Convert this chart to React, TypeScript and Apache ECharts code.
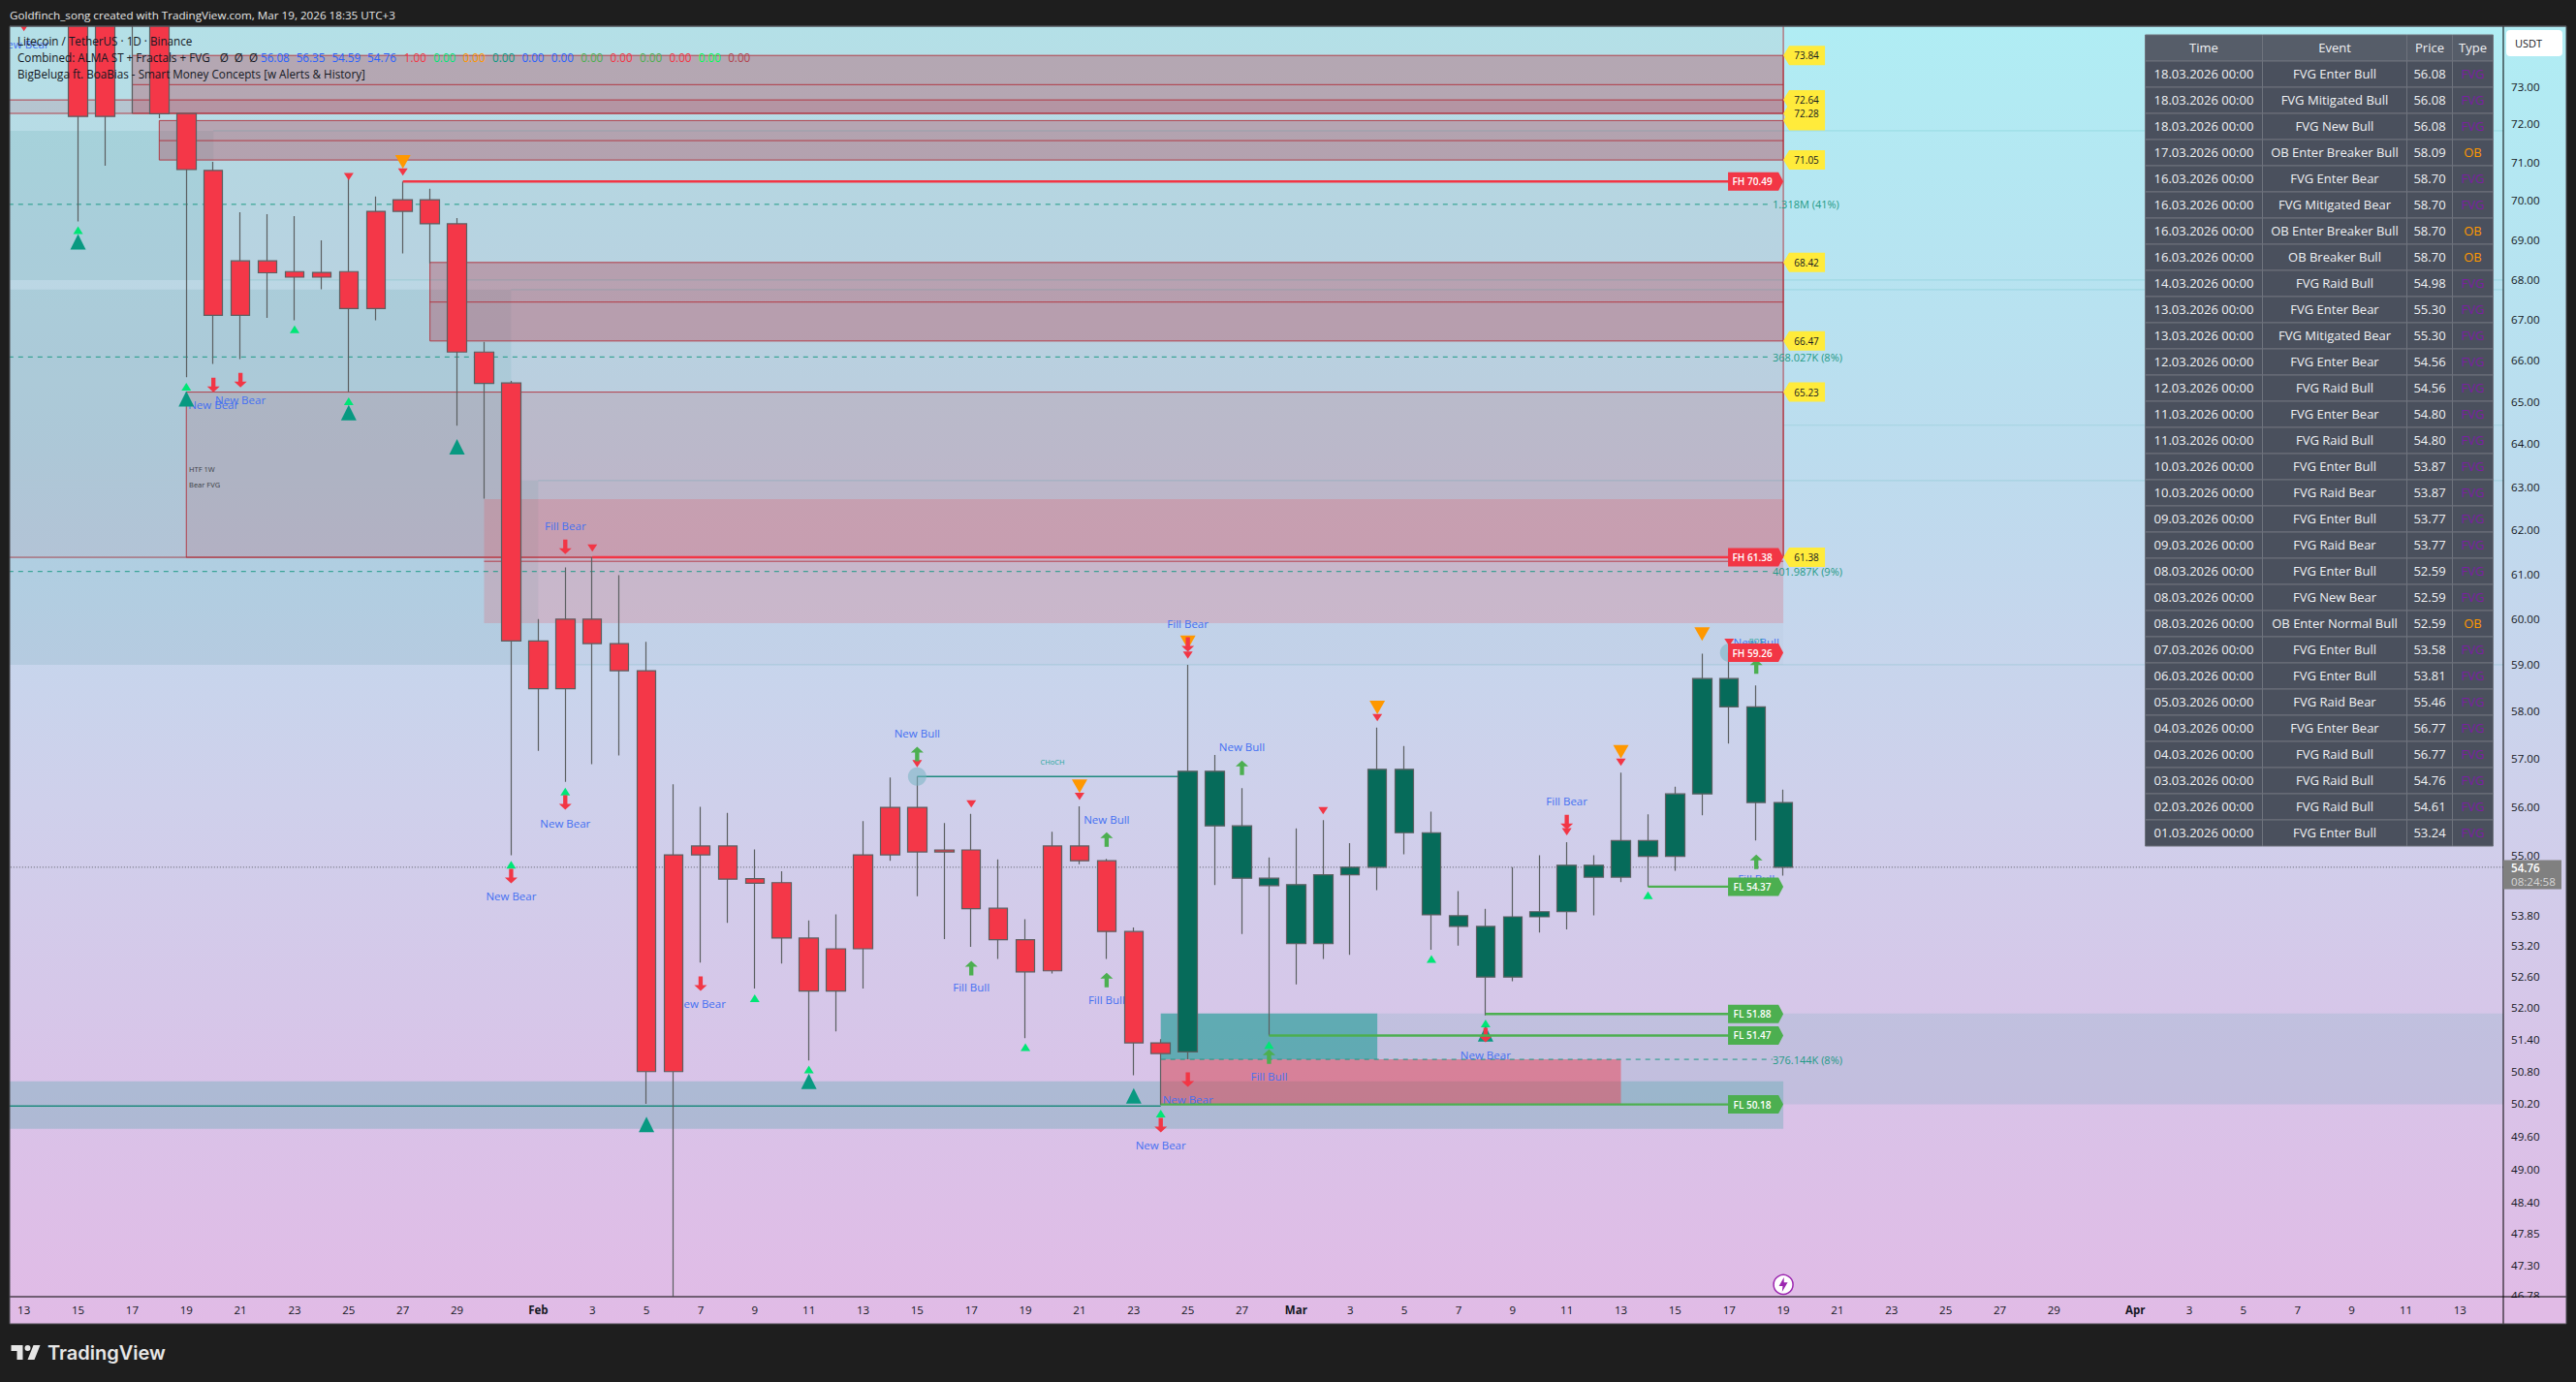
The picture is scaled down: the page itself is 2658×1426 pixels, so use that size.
import React, { useEffect, useRef } from 'react';
import * as echarts from 'echarts';

const FONT = '"Open Sans", sans-serif';

// days counted from Jan 13, the first candle is Jan 15
const FIRST_CANDLE_DAY = 2;
const TEAL_FROM_INDEX = 41;

const opens = [78, 78, 75.6, 76, 72.28, 70.78, 68.46, 68.46, 68.19, 68.17, 67.27, 67.27, 69.72, 70.02, 69.4, 66.2, 65.45, 59.52, 58.48, 60, 59.46, 58.87, 50.79, 55.01, 55.19, 54.53, 54.45, 53.35, 52.32, 53.14, 55.01, 55.98, 55.07, 55.11, 53.94, 53.32, 52.71, 55.19, 54.89, 53.48, 51.33, 51.16, 56.73, 55.6, 54.54, 54.41, 53.24, 54.61, 54.76, 56.77, 55.46, 53.79, 53.58, 52.59, 53.77, 53.87, 54.8, 54.56, 55.3, 54.98, 56.26, 58.7, 58.09, 56.08];
const closes = [72.2, 72.2, 75.2, 72.27, 70.8, 67.1, 67.1, 68.16, 68.05, 68.05, 68.19, 69.72, 70.02, 69.4, 66.2, 65.44, 59.52, 58.48, 60, 59.46, 58.87, 50.79, 55.01, 55.19, 54.52, 54.44, 53.35, 52.32, 53.14, 55.01, 55.98, 55.07, 55.11, 53.93, 53.32, 52.69, 55.19, 54.89, 53.48, 51.33, 51.13, 56.73, 55.6, 54.54, 54.39, 53.24, 54.61, 54.76, 56.77, 55.46, 53.81, 53.58, 52.59, 53.77, 53.87, 54.8, 54.56, 55.3, 54.98, 56.26, 58.7, 58.09, 56.08, 54.76];
const lows = [69.46, 70.9, 72.28, 72.15, 65.59, 65.91, 66.03, 67.04, 66.98, 67.75, 65.23, 66.98, 68.65, 68.4, 64.43, 62.72, 55, 57.16, 56.51, 56.88, 57.06, 50.19, 46.76, 52.87, 53.65, 52.37, 52.85, 51, 51.55, 52.37, 54.89, 54.18, 53.33, 53.18, 52.94, 51.42, 52.66, 54.82, 52.94, 50.72, 50.17, 51.02, 54.4, 53.43, 51.47, 52.45, 52.94, 53.02, 54.3, 55.02, 53.12, 53.2, 51.85, 52.51, 53.46, 53.52, 53.8, 54.46, 54.37, 54.69, 55.82, 57.31, 55.3, 54.59];
const highs = [79, 79, 76, 77, 72.28, 71, 69.7, 69.65, 69.6, 68.98, 70.66, 70.1, 70.49, 70.3, 69.55, 66.45, 65.5, 60, 61.15, 61.38, 60.98, 59.5, 56.46, 55.99, 55.87, 55.12, 54.68, 53.7, 53.82, 55.7, 56.6, 56.62, 55.66, 55.85, 54.92, 53.72, 55.48, 56, 54.93, 53.56, 51.4, 59, 57.07, 56.38, 54.96, 55.55, 55.72, 55.25, 57.65, 57.26, 55.89, 54.28, 53.93, 54.76, 55, 55.27, 55, 56.7, 55.84, 56.41, 59.24, 59.26, 58.55, 56.35];

const priceTicks = [73, 72, 71, 70, 69, 68, 67, 66, 65, 64, 63, 62, 61, 60, 59, 58, 57, 56, 55, 53.8, 53.2, 52.6, 52, 51.4, 50.8, 50.2, 49.6, 49, 48.4, 47.85, 47.3, 46.78];
const dayTicks: [number, string][] = [
  [0, '13'], [2, '15'], [4, '17'], [6, '19'], [8, '21'], [10, '23'], [12, '25'], [14, '27'], [16, '29'],
  [19, 'Feb'], [21, '3'], [23, '5'], [25, '7'], [27, '9'], [29, '11'], [31, '13'], [33, '15'], [35, '17'], [37, '19'], [39, '21'], [41, '23'], [43, '25'], [45, '27'],
  [47, 'Mar'], [49, '3'], [51, '5'], [53, '7'], [55, '9'], [57, '11'], [59, '13'], [61, '15'], [63, '17'], [65, '19'], [67, '21'], [69, '23'], [71, '25'], [73, '27'], [75, '29'],
  [78, 'Apr'], [80, '3'], [82, '5'], [84, '7'], [86, '9'], [88, '11'], [90, '13'],
];

// markers: [day, price]
const smallUp = [[2, 69.24], [6, 65.36], [10, 66.76], [12, 65.01], [18, 54.81], [20, 56.31], [27, 52.18], [29, 50.83], [37, 51.25], [42, 50.01], [46, 51.29], [52, 52.94], [54, 51.7], [60, 54.2]];
const bigUp = [[2, 68.94], [6, 65.07], [12, 64.74], [16, 63.93], [23, 49.81], [29, 50.61], [41, 50.34], [54, 51.5]];
const smallDown = [[0, 74.6], [12, 70.62], [14, 70.74], [21, 61.59], [33, 56.89], [35, 56.05], [39, 56.21], [43, 59.21], [48, 55.91], [50, 57.86], [57, 55.48], [59, 56.92], [63, 59.49]];
const orangeDown = [[14, 71], [39, 56.42], [43, 59.49], [50, 58.08], [59, 57.14], [62, 59.67]];
const redArrows = [[7, 65.4], [8, 65.52], [18, 54.58], [20, 61.62], [20, 56.08], [25, 52.46], [42, 49.8], [43, 59.44], [43, 50.64], [54, 51.48], [57, 55.68]];
const greenArrows = [[33, 57.09], [35, 52.76], [40, 55.32], [40, 52.53], [45, 56.8], [46, 51.07], [64, 58.96], [64, 54.87]];
const structureDots = [[33, 56.62], [63, 59.26]];
const alertDot = [[65, 46.96]];

const signalTexts: [string, number, number][] = [
  ['New Bear', 0, 74.14], ['New Bear', 7, 64.92], ['New Bear', 8, 65.04], ['Fill Bear', 20, 62.1], ['New Bear', 18, 54.18], ['New Bear', 20, 55.66],
  ['New Bear', 25, 52.08], ['New Bull', 33, 57.53], ['Fill Bull', 35, 52.39], ['New Bull', 40, 55.74], ['Fill Bull', 40, 52.16], ['Fill Bear', 43, 59.9],
  ['New Bull', 45, 57.24], ['Fill Bear', 57, 56.11], ['New Bull', 64, 59.49], ['Fill Bull', 64, 54.53], ['New Bear', 42, 49.44], ['New Bear', 43, 50.27],
  ['Fill Bull', 46, 50.71], ['New Bear', 54, 51.1],
];
const structureTexts: [string, number, number][] = [['CHoCH', 38, 56.92], ['BOS', 64, 59.52]];
const gapTexts: [string, number, number][] = [['HTF 1W', 6.1, 63.4], ['Bear FVG', 6.1, 63.05]];

// boxes: [fromDay, toDay, topPrice, bottomPrice]
const bigZone = [[-2, 65, 80, 61.38]];
const orderBlocks = [[4, 65, 73.84, 72.28], [5, 65, 72.09, 71.05], [15, 65, 68.42, 66.47]];
const thinBlock = [[-2, 65, 72.64, 72.28]];
const weeklyGap = [[6, 65, 65.23, 61.38]];
const pinkGap = [[17, 65, 62.71, 59.91]];
const volumeRowsLeft = [[-2, 7, 71.82, 67.98], [-2, 18, 67.74, 63.14], [-2, 19, 63.14, 59]];
const volumeRowsRight = [[7, 65, 71.82, 67.98], [18, 65, 67.74, 63.14], [19, 65, 63.14, 59]];
const lowVolumeRow = [[-2, 65, 50.61, 49.73]];
const farVolumeRow = [[42, 92, 51.89, 50.18]];
const tealBox = [[42, 50, 51.89, 51.02]];
const redBox = [[42, 59, 51.02, 50.18]];

// lines: [fromDay, toDay, price]
const blockMidLines = [[4, 65, 73.05], [5, 65, 71.56], [15, 65, 67.43], [17, 65, 61.29]];
const rowEdgeLines = [[7, 92, 71.82], [7, 92, 67.98], [18, 92, 67.74], [65, 92, 64.44], [19, 92, 63.14], [19, 92, 59]];
const pocLines = [[-2, 64.6, 69.9], [-2, 64.6, 66.08], [-2, 64.6, 61.06], [42, 64.6, 51.02]];
const pocTexts: [string, number, number][] = [['1.318M (41%)', 64.6, 69.9], ['368.027K (8%)', 64.6, 66.08], ['401.987K (9%)', 64.6, 61.06], ['376.144K (8%)', 64.6, 51.02]];
const structureLines = [[33, 43, 56.62], [-2, 42, 50.15], [63, 64, 59.26]];
const highLines = [[14, 64, 70.49], [21, 64, 61.38], [63, 64, 59.26]];
const lowLines = [[60, 64, 54.37], [54, 64, 51.88], [46, 64, 51.47], [42, 64, 50.18]];
const lastPriceLine = [[-2, 92, 54.76]];

const highTags: [string, number][] = [['FH 70.49', 70.49], ['FH 61.38', 61.38], ['FH 59.26', 59.26]];
const lowTags: [string, number][] = [['FL 54.37', 54.37], ['FL 51.88', 51.88], ['FL 51.47', 51.47], ['FL 50.18', 50.18]];
const levelTags: [string, number][] = [['73.84', 73.84], ['', 72.09], ['72.64', 72.64], ['72.28', 72.28], ['71.05', 71.05], ['68.42', 68.42], ['66.47', 66.47], ['65.23', 65.23], ['61.38', 61.38]];

const tableHeader = ['Time', 'Event', 'Price', 'Type'];
const tableTimes = ['18.03.2026 00:00', '18.03.2026 00:00', '18.03.2026 00:00', '17.03.2026 00:00', '16.03.2026 00:00', '16.03.2026 00:00', '16.03.2026 00:00', '16.03.2026 00:00', '14.03.2026 00:00', '13.03.2026 00:00', '13.03.2026 00:00', '12.03.2026 00:00', '12.03.2026 00:00', '11.03.2026 00:00', '11.03.2026 00:00', '10.03.2026 00:00', '10.03.2026 00:00', '09.03.2026 00:00', '09.03.2026 00:00', '08.03.2026 00:00', '08.03.2026 00:00', '08.03.2026 00:00', '07.03.2026 00:00', '06.03.2026 00:00', '05.03.2026 00:00', '04.03.2026 00:00', '04.03.2026 00:00', '03.03.2026 00:00', '02.03.2026 00:00', '01.03.2026 00:00'];
const tableEvents = ['FVG Enter Bull', 'FVG Mitigated Bull', 'FVG New Bull', 'OB Enter Breaker Bull', 'FVG Enter Bear', 'FVG Mitigated Bear', 'OB Enter Breaker Bull', 'OB Breaker Bull', 'FVG Raid Bull', 'FVG Enter Bear', 'FVG Mitigated Bear', 'FVG Enter Bear', 'FVG Raid Bull', 'FVG Enter Bear', 'FVG Raid Bull', 'FVG Enter Bull', 'FVG Raid Bear', 'FVG Enter Bull', 'FVG Raid Bear', 'FVG Enter Bull', 'FVG New Bear', 'OB Enter Normal Bull', 'FVG Enter Bull', 'FVG Enter Bull', 'FVG Raid Bear', 'FVG Enter Bear', 'FVG Raid Bull', 'FVG Raid Bull', 'FVG Raid Bull', 'FVG Enter Bull'];
const tablePrices = ['56.08', '56.08', '56.08', '58.09', '58.70', '58.70', '58.70', '58.70', '54.98', '55.30', '55.30', '54.56', '54.56', '54.80', '54.80', '53.87', '53.87', '53.77', '53.77', '52.59', '52.59', '52.59', '53.58', '53.81', '55.46', '56.77', '56.77', '54.76', '54.61', '53.24'];
const tableTypes = ['FVG', 'FVG', 'FVG', 'OB', 'FVG', 'FVG', 'OB', 'OB', 'FVG', 'FVG', 'FVG', 'FVG', 'FVG', 'FVG', 'FVG', 'FVG', 'FVG', 'FVG', 'FVG', 'FVG', 'FVG', 'OB', 'FVG', 'FVG', 'FVG', 'FVG', 'FVG', 'FVG', 'FVG', 'FVG'];

const legendValues = ['56.08', '56.35', '54.59', '54.76', '1.00', '0.00', '0.00', '0.00', '0.00', '0.00', '0.00', '0.00', '0.00', '0.00', '0.00', '0.00'];
const legendColors = ['#2962ff', '#2962ff', '#2962ff', '#2962ff', '#f23645', '#00e676', '#ff9800', '#089981', '#2962ff', '#2962ff', '#4caf50', '#f23645', '#4caf50', '#f23645', '#00ff55', '#b2454f'];

const LOGO = 'M14 6H2v6h6v9h6V6Zm12 15h-7l6-15h7l-6 15Zm-7-9a3 3 0 1 0 0-6 3 3 0 0 0 0 6Z';
echarts.graphic.registerShape('tvLogo', echarts.graphic.extendPath(LOGO, {}) as any);

const boxSeries = (rows: number[][], fill: string, z: number, stroke?: string) => ({
  type: 'custom',
  z,
  clip: true,
  silent: true,
  data: rows,
  encode: { x: [0, 1], y: [2, 3] },
  renderItem: (params: any, api: any) => {
    const row = rows[params.dataIndex];
    const a = api.coord([row[0], row[2]]);
    const b = api.coord([row[1], row[3]]);
    return {
      type: 'rect',
      shape: { x: a[0], y: a[1], width: b[0] - a[0], height: b[1] - a[1] },
      style: { fill, stroke: stroke || 'none', lineWidth: 1 },
    };
  },
});

const lineSeries = (rows: number[][], stroke: string, lineWidth: number, z: number, lineDash?: number[]) => ({
  type: 'custom',
  z,
  clip: true,
  silent: true,
  data: rows,
  encode: { x: [0, 1], y: 2 },
  renderItem: (params: any, api: any) => {
    const row = rows[params.dataIndex];
    const a = api.coord([row[0], row[2]]);
    const b = api.coord([row[1], row[2]]);
    return {
      type: 'line',
      shape: { x1: a[0], y1: a[1], x2: b[0], y2: b[1] },
      style: { stroke, lineWidth, lineDash: lineDash || null },
    };
  },
});

const textSeries = (rows: [string, number, number][], fill: string, size: number, z: number, align = 'center') => ({
  type: 'custom',
  z,
  silent: true,
  data: rows.map((r) => [r[1], r[2]]),
  encode: { x: 0, y: 1 },
  renderItem: (params: any, api: any) => {
    const row = rows[params.dataIndex];
    const p = api.coord([row[1], row[2]]);
    return {
      type: 'text',
      style: { x: p[0], y: p[1], text: row[0], fill, font: `${size}px ${FONT}`, align, verticalAlign: 'middle' },
    };
  },
});

// price tags that hang off the last day, pointing right at it
const tagSeries = (rows: [string, number][], fill: string, z: number) => ({
  type: 'custom',
  z,
  silent: true,
  data: rows.map((r) => [65, r[1]]),
  encode: { x: 0, y: 1 },
  renderItem: (params: any, api: any) => {
    const row = rows[params.dataIndex];
    const [tip, y] = api.coord([65, row[1]]);
    return {
      type: 'group',
      children: [
        { type: 'polygon', shape: { points: [[tip - 57, y - 9.5], [tip - 5, y - 9.5], [tip, y], [tip - 5, y + 9.5], [tip - 57, y + 9.5]] }, style: { fill } },
        { type: 'text', style: { x: tip - 32, y, text: row[0], fill: '#ffffff', font: `600 10px ${FONT}`, align: 'center', verticalAlign: 'middle' } },
      ],
    };
  },
});

const levelSeries = (rows: [string, number][], z: number) => ({
  type: 'custom',
  z,
  silent: true,
  data: rows.map((r) => [65, r[1]]),
  encode: { x: 0, y: 1 },
  renderItem: (params: any, api: any) => {
    const row = rows[params.dataIndex];
    const [tip, y] = api.coord([65, row[1]]);
    return {
      type: 'group',
      children: [
        { type: 'polygon', shape: { points: [[tip, y], [tip + 6, y - 10], [tip + 43, y - 10], [tip + 43, y + 10], [tip + 6, y + 10]] }, style: { fill: '#ffeb3b' } },
        { type: 'text', style: { x: tip + 24, y, text: row[0], fill: '#131722', font: `10px ${FONT}`, align: 'center', verticalAlign: 'middle' } },
      ],
    };
  },
});

const markerSeries = (data: number[][], symbol: string, size: number[], color: string, rotate: number, z: number) => ({
  type: 'scatter',
  z,
  silent: true,
  data,
  symbol,
  symbolSize: size,
  symbolRotate: rotate,
  itemStyle: { color, opacity: 1 },
});

const buildTable = () => {
  const left = 2213.5;
  const top = 36;
  const rowH = 27;
  const colX = [left, 2334.5, 2483.5, 2530.5, 2572.5];
  const cells: any[] = [];
  const addRow = (values: string[], rowIndex: number, fill: string, typeColor: string) => {
    values.forEach((text, c) => {
      const y = top + rowH * rowIndex;
      cells.push({ type: 'rect', z: 22, silent: true, shape: { x: colX[c], y, width: colX[c + 1] - colX[c], height: rowH }, style: { fill, stroke: '#6e737d', lineWidth: 1 } });
      cells.push({
        type: 'text', z: 23, silent: true,
        style: { x: (colX[c] + colX[c + 1]) / 2, y: y + rowH / 2 - 0.8, text, fill: c === 3 ? typeColor : '#f0f1f4', font: `500 13px ${FONT}`, align: 'center', verticalAlign: 'middle' },
      });
    });
  };
  addRow(tableHeader, 0, '#565d69', '#f0f1f4');
  tableTimes.forEach((t, i) => {
    const typeColor = tableTypes[i] === 'OB' ? '#ff9800' : '#7b1fa2';
    addRow([t, tableEvents[i], tablePrices[i], tableTypes[i]], i + 1, '#4a505d', typeColor);
  });
  return cells;
};

const buildLegend = () => {
  const base = { z: 21, silent: true };
  const line = (x: number, y: number, text: string, fill = '#131722') => ({
    ...base, type: 'text', style: { x, y, text, fill, font: `11.7px ${FONT}`, align: 'left', verticalAlign: 'middle' },
  });
  const items: any[] = [
    line(18, 42, 'Litecoin / TetherUS · 1D · Binance'),
    line(18, 58.7, 'Combined: ALMA ST + Fractals + FVG'),
    line(18, 76, 'BigBeluga ft. BoaBias - Smart Money Concepts [w Alerts & History]'),
    line(226.7, 58.7, 'Ø'),
    line(241.7, 58.7, 'Ø'),
    line(257, 58.7, 'Ø'),
  ];
  legendValues.forEach((v, i) => {
    const x = i < 4 ? 269 + i * 36.7 : 416.8 + (i - 4) * 30.4;
    items.push(line(x, 58.7, v, legendColors[i]));
  });
  return items;
};

const buildFrame = () => {
  const dark = '#1e1e1e';
  return [
    {
      type: 'rect', z: -1, silent: true,
      shape: { x: 10, y: 27, width: 2638, height: 1339 },
      style: {
        fill: new echarts.graphic.LinearGradient(0, 0, 0, 1, [
          { offset: 0, color: '#b0edf4' },
          { offset: 0.33, color: '#bcdcee' },
          { offset: 0.6, color: '#cfd0eb' },
          { offset: 0.82, color: '#d9c3e8' },
          { offset: 1, color: '#e1bbe6' },
        ]),
      },
    },
    // covers for text that runs past the pane edges
    { type: 'rect', z: 15, silent: true, shape: { x: 0, y: 0, width: 10, height: 1426 }, style: { fill: dark } },
    { type: 'rect', z: 15, silent: true, shape: { x: 0, y: 0, width: 2658, height: 27 }, style: { fill: dark } },
    { type: 'rect', z: 15, silent: true, shape: { x: 2583.5, y: 1339, width: 64, height: 26 }, style: { fill: '#e1bbe6' } },
    { type: 'line', z: 16, silent: true, shape: { x1: 10, y1: 27, x2: 2648, y2: 27 }, style: { stroke: '#55585e', lineWidth: 1 } },
    { type: 'line', z: 16, silent: true, shape: { x1: 10, y1: 1338, x2: 2648, y2: 1338 }, style: { stroke: '#000000', lineWidth: 1 } },
    { type: 'line', z: 16, silent: true, shape: { x1: 2583, y1: 27, x2: 2583, y2: 1366 }, style: { stroke: '#000000', lineWidth: 1 } },
    { type: 'rect', z: 16, silent: true, shape: { x: 10, y: 27, width: 2638, height: 1339 }, style: { fill: 'none', stroke: '#4d4d52', lineWidth: 1 } },
    {
      type: 'text', z: 17, silent: true,
      style: { x: 10, y: 15, text: 'Goldfinch_song created with TradingView.com, Mar 19, 2026 18:35 UTC+3', fill: '#e6e6e6', font: `11.65px ${FONT}`, align: 'left', verticalAlign: 'middle' },
    },
    { type: 'tvLogo', z: 17, silent: true, x: 9.5, y: 1382, style: { fill: '#e6e6e6' } },
    {
      type: 'text', z: 17, silent: true,
      style: { x: 49, y: 1396, text: 'TradingView', fill: '#e6e6e6', font: `600 20px Inter, ${FONT}`, align: 'left', verticalAlign: 'middle' },
    },
    // price scale widgets
    { type: 'rect', z: 20, silent: true, shape: { x: 2586, y: 31, width: 58, height: 27, r: 4 }, style: { fill: '#ffffff' } },
    { type: 'text', z: 21, silent: true, style: { x: 2595, y: 44.5, text: 'USDT', fill: '#131722', font: `11px ${FONT}`, align: 'left', verticalAlign: 'middle' } },
    { type: 'rect', z: 20, silent: true, shape: { x: 2583, y: 887.5, width: 60, height: 30 }, style: { fill: '#808080' } },
    { type: 'text', z: 21, silent: true, style: { x: 2591, y: 895.5, text: '54.76', fill: '#ffffff', font: `600 11.6px ${FONT}`, align: 'left', verticalAlign: 'middle' } },
    { type: 'text', z: 21, silent: true, style: { x: 2591, y: 909.5, text: '08:24:58', fill: '#d6d6d6', font: `11.6px ${FONT}`, align: 'left', verticalAlign: 'middle' } },
  ];
};

const App: React.FC = () => {
  const chartRef = useRef<HTMLDivElement>(null);

  useEffect(() => {
    if (!chartRef.current) return;
    const chart = echarts.init(chartRef.current, null, { renderer: 'svg' });
    const RED = '#f43748';
    const TEAL = '#066b5a';
    const CANDLE_EDGE = '#5b5f61';

    const candles = opens.map((o, i) => {
      const fill = i < TEAL_FROM_INDEX ? RED : TEAL;
      return {
        value: [FIRST_CANDLE_DAY + i, o, closes[i], lows[i], highs[i]],
        itemStyle: { color: fill, color0: fill, borderColor: CANDLE_EDGE, borderColor0: CANDLE_EDGE, borderColorDoji: CANDLE_EDGE, borderWidth: 1.2 },
      };
    });

    chart.setOption({
      animation: false,
      backgroundColor: '#1e1e1e',
      textStyle: { fontFamily: FONT },
      grid: { left: 10, top: 27, width: 2573, height: 1311, containLabel: false },
      xAxis: {
        type: 'value',
        min: -0.526,
        max: 91.6,
        splitLine: { show: false },
        axisTick: { show: false },
        axisLine: { show: false },
        axisLabel: {
          customValues: dayTicks.map((t) => t[0]),
          color: '#131722',
          fontSize: 11.5,
          margin: 7,
          formatter: (v: number) => {
            const label = (dayTicks.find((t) => t[0] === v) || [v, ''])[1] as string;
            return /[A-Za-z]/.test(label) ? `{m|${label}}` : label;
          },
          rich: { m: { fontWeight: 700, fontSize: 11.5, color: '#131722' } },
        },
      },
      yAxis: {
        type: 'log',
        position: 'right',
        min: 46.75,
        max: 74.64,
        splitLine: { show: false },
        axisTick: { show: false },
        axisLine: { show: false },
        axisLabel: {
          customValues: priceTicks,
          color: '#131722',
          fontSize: 11.6,
          margin: 8,
          formatter: (v: number) => v.toFixed(2),
        },
      },
      series: [
        boxSeries(bigZone, 'rgba(242,54,69,0.07)', 1, 'rgba(178,40,50,0.85)'),
        boxSeries(volumeRowsLeft, 'rgba(0,110,115,0.09)', 1),
        boxSeries(volumeRowsRight, 'rgba(80,110,120,0.03)', 1),
        boxSeries(lowVolumeRow, 'rgba(0,150,136,0.2)', 1),
        boxSeries(farVolumeRow, 'rgba(0,150,136,0.1)', 1),
        boxSeries(weeklyGap, 'rgba(178,40,60,0.12)', 1, 'rgba(178,40,50,0.85)'),
        boxSeries(pinkGap, 'rgba(242,54,69,0.18)', 1),
        boxSeries(orderBlocks, 'rgba(178,40,60,0.3)', 1, 'rgba(178,40,50,0.85)'),
        boxSeries(thinBlock, 'rgba(178,40,60,0.13)', 1, 'rgba(178,40,50,0.85)'),
        boxSeries(tealBox, 'rgba(0,150,136,0.5)', 1),
        boxSeries(redBox, 'rgba(242,54,69,0.45)', 1),
        lineSeries(blockMidLines, 'rgba(178,40,50,0.85)', 1, 1),
        lineSeries(rowEdgeLines, 'rgba(0,150,136,0.13)', 1.2, 1),
        lineSeries(pocLines, '#1f9a86', 1, 1, [5, 5]),
        lineSeries(lastPriceLine, '#5b5f66', 1, 1, [1, 2]),
        lineSeries(structureLines, '#1f8a7e', 1.4, 1),
        textSeries(signalTexts, '#4470f2', 11.5, 1),
        textSeries(structureTexts, '#26a69a', 7.5, 1),
        textSeries(gapTexts, '#3a3d44', 7.5, 1, 'left'),
        {
          type: 'candlestick',
          z: 3,
          silent: true,
          barWidth: 20,
          clip: true,
          encode: { x: 0, y: [1, 2, 3, 4] },
          data: candles,
        },
        markerSeries(structureDots, 'circle', [19, 19], 'rgba(120,180,195,0.55)', 0, 4),
        markerSeries(smallUp, 'triangle', [10, 8], '#00e676', 0, 4),
        markerSeries(bigUp, 'triangle', [16, 16], '#089981', 0, 4),
        markerSeries(orangeDown, 'triangle', [16, 14], '#ff9800', 180, 4),
        markerSeries(smallDown, 'triangle', [10, 7.5], '#f23645', 180, 4),
        markerSeries(redArrows, 'path://M4 0H8V9H12L6 15L0 9H4Z', [13, 15], '#f23645', 0, 4),
        markerSeries(greenArrows, 'path://M4 15H8V6H12L6 0L0 6H4Z', [13, 15], '#4caf50', 0, 4),
        lineSeries(highLines, '#f23645', 2.4, 5),
        lineSeries(lowLines, '#4caf50', 2.4, 5),
        textSeries(pocTexts, '#1f9a86', 11, 6, 'left'),
        levelSeries(levelTags, 6),
        tagSeries(highTags, '#f23645', 7),
        tagSeries(lowTags, '#4caf50', 7),
        {
          type: 'scatter',
          z: 7,
          silent: true,
          clip: false,
          data: alertDot,
          symbol: 'circle',
          symbolSize: 20,
          itemStyle: { color: '#ffffff', borderColor: '#9c27b0', borderWidth: 1.5, opacity: 1 },
        },
        {
          type: 'scatter',
          z: 8,
          silent: true,
          clip: false,
          data: alertDot,
          symbol: 'path://M13 2L5 14H11L10 22L19 9H13Z',
          symbolSize: [9, 15],
          itemStyle: { color: '#9c27b0', opacity: 1 },
        },
      ],
      graphic: { elements: [...buildFrame(), ...buildLegend(), ...buildTable()] },
    });

    return () => {
      chart.dispose();
    };
  }, []);

  return <div ref={chartRef} style={{ position: 'fixed', left: 0, top: 0, width: 2658, height: 1426 }} />;
};

export default App;
